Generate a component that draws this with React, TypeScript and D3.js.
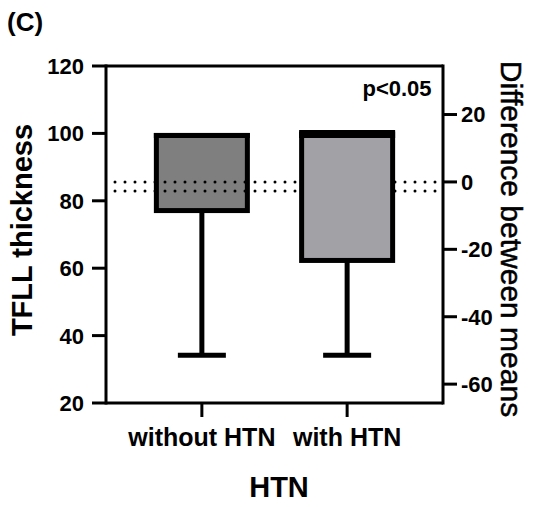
import React from "react";
import * as d3 from "d3";

const categories = ["without HTN", "with HTN"];
const boxLow = [77.1, 62.3];
const boxHigh = [99.4, 99.8];
const whiskerLow = [34.2, 34.2];
const groupMeans = [85.6, 82.9];
const leftTicks = [20, 40, 60, 80, 100, 120];
const rightTicks = [20, 0, -20, -40, -60];
const fills = ["#7f7f7f", "#a2a2a6"];
const topStroke = [5, 8];

const W = 550;
const H = 507;
const left = 106;
const right = 443;
const top = 66;
const bottom = 403;

export default function App() {
  const y = d3.scaleLinear().domain([20, 120]).range([bottom, top]);
  const ref = groupMeans[0];
  const yR = d3.scaleLinear().domain([20 - ref, 120 - ref]).range([bottom, top]);
  const x = d3.scalePoint<string>().domain(categories).range([left, right]).padding(0.66);
  const boxW = 91;
  const capW = 48;
  const font = "Liberation Sans, Arial, Helvetica, sans-serif";

  const dotRow = (yy: number, key: string) => (
    <line key={key} x1={115} x2={441} y1={yy} y2={yy} stroke="#000" strokeWidth={3}
      strokeDasharray="0 10" strokeLinecap="round" />
  );

  const bar = (i: number) => {
    const cx = x(categories[i])!;
    const y0 = y(boxHigh[i]);
    const y1 = y(boxLow[i]);
    return (
      <g key={"b" + i}>
        <line x1={cx} x2={cx} y1={y1} y2={y(whiskerLow[i])} stroke="#000" strokeWidth={5} />
        <line x1={cx - capW / 2} x2={cx + capW / 2} y1={y(whiskerLow[i])} y2={y(whiskerLow[i])} stroke="#000" strokeWidth={5} />
        <rect x={cx - boxW / 2} y={y0} width={boxW} height={y1 - y0} fill={fills[i]} stroke="#000" strokeWidth={5} />
        <line x1={cx - boxW / 2 - 2.5} x2={cx + boxW / 2 + 2.5} y1={y0} y2={y0} stroke="#000" strokeWidth={topStroke[i]} />
      </g>
    );
  };

  return (
    <svg width={W} height={H} style={{ position: "absolute", left: 0, top: 0 }} fontFamily={font}>
      <rect width={W} height={H} fill="#fff" />
      <text x={7} y={31} fontSize={26} fontWeight="bold">(C)</text>

      {bar(0)}
      {groupMeans.map((m, i) => dotRow(y(m), "d" + i))}
      {bar(1)}

      {/* frame */}
      <line x1={left} x2={right} y1={top} y2={top} stroke="#000" strokeWidth={3} />
      <line x1={left} x2={left} y1={top - 1.5} y2={bottom + 1.5} stroke="#000" strokeWidth={3} />
      <line x1={right} x2={right} y1={top - 1.5} y2={bottom + 1.5} stroke="#000" strokeWidth={3} />
      <line x1={left} x2={right} y1={bottom} y2={bottom} stroke="#000" strokeWidth={3} />

      {/* left axis */}
      {leftTicks.map((t) => (
        <g key={"l" + t}>
          <line x1={left - 14} x2={left} y1={y(t)} y2={y(t)} stroke="#000" strokeWidth={3} />
          <text x={left - 22} y={y(t)} dy="0.36em" textAnchor="end" fontSize={22} fontWeight="bold">{t}</text>
        </g>
      ))}

      {/* right axis */}
      {rightTicks.map((t) => (
        <g key={"r" + t}>
          <line x1={right} x2={right + 14} y1={yR(t)} y2={yR(t)} stroke="#000" strokeWidth={3} />
          <text x={right + 18} y={yR(t)} dy="0.36em" textAnchor="start" fontSize={22} fontWeight="bold">{t}</text>
        </g>
      ))}

      {/* x axis */}
      {categories.map((c) => (
        <g key={c}>
          <line x1={x(c)!} x2={x(c)!} y1={bottom} y2={bottom + 14} stroke="#000" strokeWidth={3} />
          <text x={x(c)!} y={446} textAnchor="middle" fontSize={25} fontWeight="bold">{c}</text>
        </g>
      ))}

      <text x={397} y={96} textAnchor="middle" fontSize={22} fontWeight="bold">p&lt;0.05</text>

      <text x={279} y={497} textAnchor="middle" fontSize={29} fontWeight="bold">HTN</text>
      <text transform={`translate(32,${230}) rotate(-90)`} textAnchor="middle" fontSize={29} fontWeight="bold">TFLL thickness</text>
      <text transform={`translate(501,${239}) rotate(90)`} textAnchor="middle" fontSize={30} fontWeight={500} stroke="#000" strokeWidth={0.5}>Difference between means</text>
    </svg>
  );
}
